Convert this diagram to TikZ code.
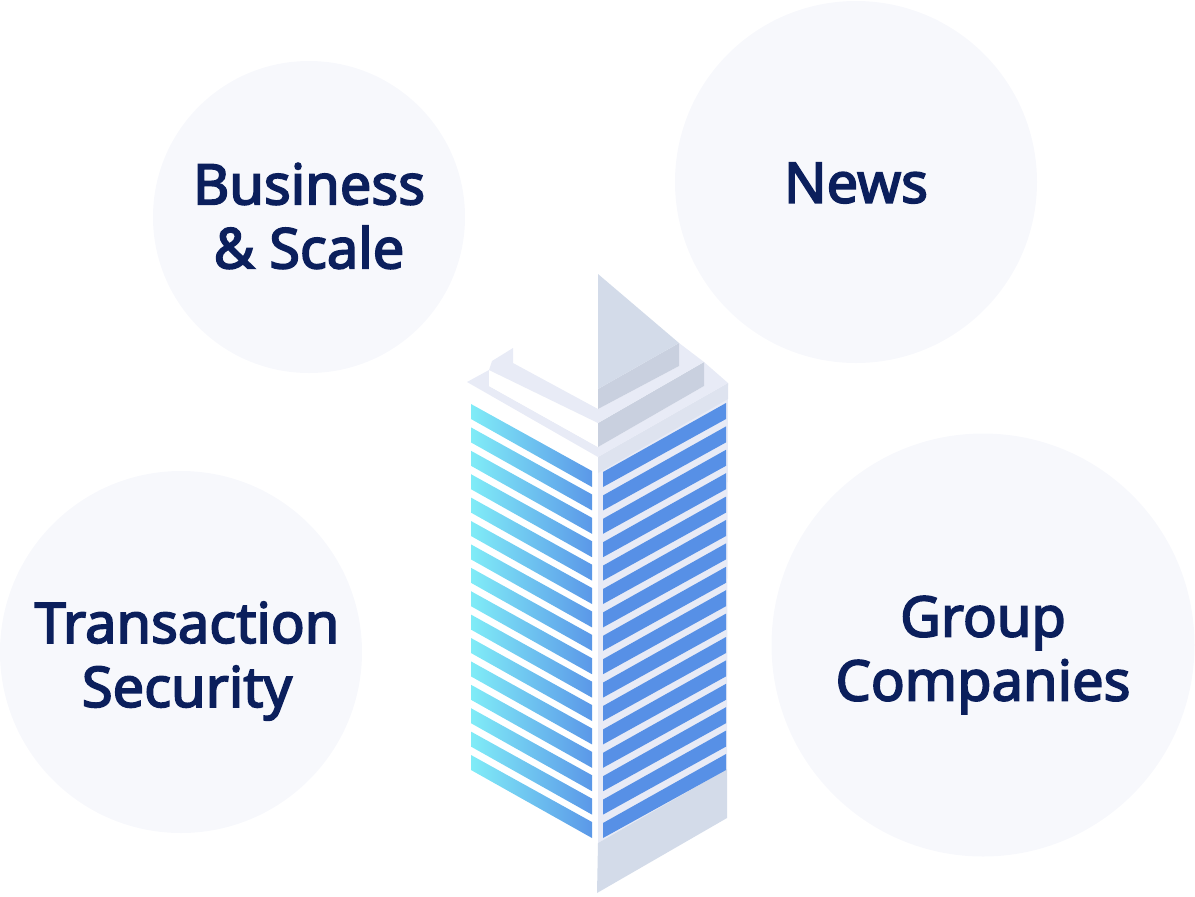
\documentclass[tikz,border=0pt]{standalone}
\usepackage{fontspec}
\newfontfamily\labelfont{Noto Sans}[FakeBold=3]
\definecolor{bubble}{HTML}{F7F8FC}
\definecolor{inktext}{HTML}{0B1F5C}
\definecolor{plate}{HTML}{E8EBF6}
\definecolor{band}{HTML}{DEE3EF}
\definecolor{shadeface}{HTML}{C9D0DF}
\definecolor{spireface}{HTML}{D3DBE9}
\definecolor{glassblue}{HTML}{5790E6}
\definecolor{glasscyan}{HTML}{80ECF7}
\definecolor{glassmid}{HTML}{5B98E8}
\begin{document}
\begin{tikzpicture}[x=0.5pt, y=-0.5pt,
	c/.style={circle, fill=bubble, inner sep=0pt},
	t/.style={align=center, text=inktext, inner sep=0pt, font=\fontsize{28}{32}\labelfont},
	g/.style={left color=glasscyan, right color=glassmid, draw=none},
	r/.style={fill=glassblue}]
	\useasboundingbox (0,0) rectangle (1195,896);

	\node[c, minimum size=156pt] (business) at (309,217) {};
	\node[t] (business_label) at (309,216) {Business\\\& Scale};
	\node[c, minimum size=181pt] (news) at (856,182) {};
	\node[t] (news_label) at (856,183) {News};
	\node[c, minimum size=181pt] (transaction) at (181,652) {};
	\node[t] (transaction_label) at (187,661) {Transaction\\Security};
	\node[c, minimum size=211.5pt] (group) at (983,645) {};
	\node[t] (group_label) at (983,655) {Group\\Companies};

	% right face
	\fill[plate] (598,457) -- (728,383) -- (727,769) -- (598,843) -- cycle;
	\fill[band] (598,457) -- (728,383) -- (728,399) -- (598,473) -- cycle;
	\fill[spireface] (598,843) -- (727,769) -- (727,818) -- (597,893) -- cycle;

	% stripes
	\foreach \i in {0,...,15} {
		\shade[g] (471,{404+23.4*\i}) -- (592,{471+23.4*\i}) -- (592,{487+23.4*\i}) -- (471,{419+23.4*\i}) -- cycle;
		\fill[r] (603,{472+23.4*\i}) -- (726,{403+23.4*\i}) -- (726,{419+23.4*\i}) -- (603,{487+23.4*\i}) -- cycle;
	}

	% roof
	\fill[plate] (467,382) -- (489,370) -- (489,386) -- (598,447) -- (704,386) -- (704,362) -- (728,383) -- (598,457) -- cycle;
	\fill[white] (489,370) -- (598,423) -- (598,447) -- (489,386) -- cycle;
	\fill[shadeface] (598,423) -- (704,362) -- (704,386) -- (598,447) -- cycle;
	\fill[plate] (492,361) -- (513,348) -- (513,363) -- (598,409) -- (598,423) -- (489,370) -- cycle;
	\fill[plate] (598,409) -- (679,366) -- (679,343) -- (704,362) -- (598,423) -- cycle;
	\fill[shadeface] (598,389) -- (679,343) -- (679,366) -- (598,409) -- cycle;
	\fill[spireface] (598,274) -- (679,343) -- (598,389) -- cycle;
\end{tikzpicture}
\end{document}
